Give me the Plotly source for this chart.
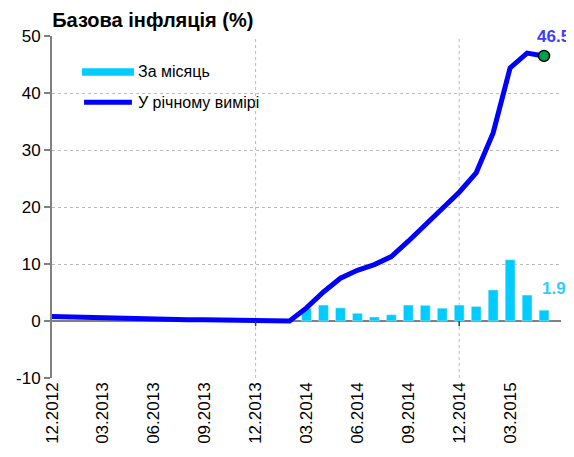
import plotly.graph_objects as go

months = ["12.2012", "01.2013", "02.2013", "03.2013", "04.2013", "05.2013", "06.2013",
          "07.2013", "08.2013", "09.2013", "10.2013", "11.2013", "12.2013",
          "01.2014", "02.2014", "03.2014", "04.2014", "05.2014", "06.2014",
          "07.2014", "08.2014", "09.2014", "10.2014", "11.2014", "12.2014",
          "01.2015", "02.2015", "03.2015", "04.2015", "05.2015"]

annual = [0.8, 0.7, 0.6, 0.5, 0.4, 0.3, 0.2, 0.2, 0.2, 0.2, 0.2, 0.2, 0.1,
          0.1, 0.0, 2.3, 5.1, 7.5, 8.9, 9.9, 11.3, 14.0, 16.9, 19.5, 22.6,
          26.0, 33.0, 44.4, 47.0, 46.5]

monthly = [None] * 15 + [2.2, 2.8, 2.3, 1.35, 0.7, 1.1, 2.8, 2.75, 2.25, 2.8,
                         2.55, 5.45, 10.75, 4.55, 1.9]

tick_labels = months[::3]
year_ends = ["12.2013", "12.2014"]
y_ticks = [-10, 0, 10, 20, 30, 40, 50]

name_monthly = "За місяць"
name_annual = "У річному вимірі"
title = "Базова інфляція (%)"

BAR = "#00CCFF"
LINE = "#0000FF"
FONT = "Liberation Sans, Arial, sans-serif"

last_idx = len(months) - 1

fig = go.Figure()
fig.add_trace(go.Bar(x=months, y=monthly, marker_color=BAR, name=name_monthly,
                     showlegend=False))
fig.add_trace(go.Scatter(x=months, y=annual, mode="lines",
                         line=dict(color=LINE, width=5), name=name_annual,
                         showlegend=False))
fig.add_trace(go.Scatter(x=[months[-1]], y=[annual[-1]], mode="markers",
                         marker=dict(size=11, color="#00A050",
                                     line=dict(color="black", width=1.5)),
                         showlegend=False))

shapes = []
for ye in year_ends:
    xi = months.index(ye)
    shapes.append(dict(type="line", xref="x", yref="paper", x0=xi, x1=xi, y0=0, y1=1,
                       line=dict(color="#BBBBBB", width=1, dash="dot"), layer="below"))
    shapes.append(dict(type="line", xref="x", yref="y", x0=xi, x1=xi, y0=0, y1=-0.9,
                       line=dict(color="#404040", width=1.5)))

# legend swatches
shapes.append(dict(type="rect", xref="paper", yref="paper", x0=0.059, x1=0.161,
                   y0=0.884, y1=0.906, fillcolor=BAR, line=dict(width=0)))
shapes.append(dict(type="line", xref="paper", yref="paper", x0=0.063, x1=0.157,
                   y0=0.806, y1=0.806, line=dict(color=LINE, width=5)))

annotations = [
    dict(xref="paper", yref="paper", x=0.165, y=0.895, text=name_monthly,
         showarrow=False, xanchor="left", yanchor="middle",
         font=dict(family=FONT, size=16, color="black")),
    dict(xref="paper", yref="paper", x=0.165, y=0.806, text=name_annual,
         showarrow=False, xanchor="left", yanchor="middle",
         font=dict(family=FONT, size=16, color="black")),
    dict(x=last_idx, y=annual[-1], text=f"{annual[-1]:.1f}", showarrow=False,
         xanchor="center", yanchor="bottom", xshift=9, yshift=8,
         font=dict(family=FONT, size=17, color="#3D3DFF", weight="bold")),
    dict(x=last_idx, y=monthly[-1], text=f"{monthly[-1]:.1f}", showarrow=False,
         xanchor="center", yanchor="bottom", xshift=10, yshift=10,
         font=dict(family=FONT, size=17, color="#33CCFF", weight="bold")),
]

fig.update_layout(
    width=566, height=441,
    margin=dict(l=44, r=13, t=28, b=71),
    paper_bgcolor="white", plot_bgcolor="white",
    bargap=0.42,
    title=dict(text=title, x=0.078, xanchor="left", y=1 - 12 / 441, yanchor="middle",
               font=dict(family=FONT, size=20, color="black", weight="bold")),
    shapes=shapes, annotations=annotations,
    font=dict(family=FONT, size=17, color="black"),
)
fig.update_xaxes(type="category", range=[0, 30], tickmode="array",
                 tickvals=tick_labels, ticktext=tick_labels, tickangle=-90,
                 showgrid=False, zeroline=False, showline=False, ticks="",
                 automargin=False,
                 tickfont=dict(family=FONT, size=17, color="black"))
fig.update_yaxes(range=[-10, 50], tickmode="array", tickvals=y_ticks,
                 ticktext=[str(v) for v in y_ticks], showgrid=True,
                 gridcolor="#BBBBBB", automargin=False,
                 griddash="dot", gridwidth=1, zeroline=True, zerolinecolor="#808080",
                 zerolinewidth=2, showline=True, linecolor="#808080", linewidth=2,
                 ticks="outside", ticklen=6, tickcolor="#808080", tickwidth=1.5,
                 tickfont=dict(family=FONT, size=17, color="black"))

fig.write_html("out.html")
